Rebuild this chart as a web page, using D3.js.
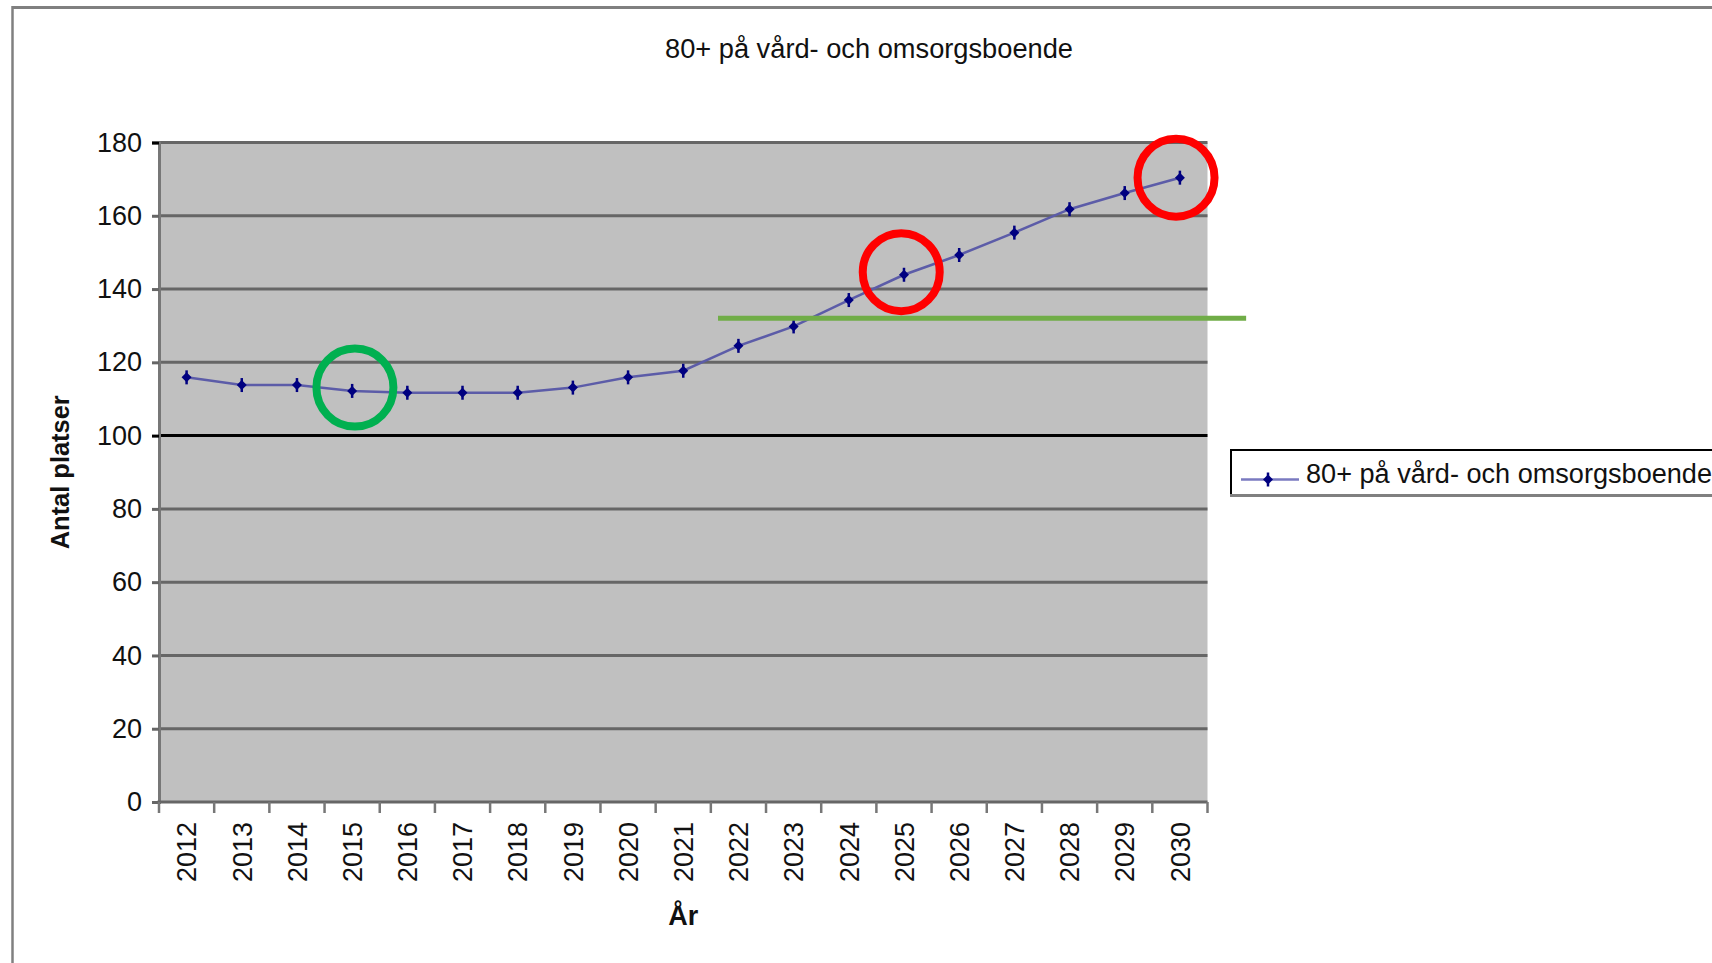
<!DOCTYPE html>
<html>
<head>
<meta charset="utf-8">
<script src="https://cdn.jsdelivr.net/npm/d3@7"></script>
<style>
  body { margin: 0; background: #fff; }
  svg { display: block; font-family: "Liberation Sans", Arial, sans-serif; }
</style>
</head>
<body>
<div id="chart"></div>
<script>
var years = ["2012", "2013", "2014", "2015", "2016", "2017", "2018", "2019", "2020", "2021",
             "2022", "2023", "2024", "2025", "2026", "2027", "2028", "2029", "2030"];
var platser = [115.9, 113.8, 113.8, 112.2, 111.7, 111.7, 111.7, 113.1, 115.9, 117.7,
               124.5, 129.8, 137.0, 143.9, 149.3, 155.4, 161.8, 166.2, 170.4];
var yTicks = [0, 20, 40, 60, 80, 100, 120, 140, 160, 180];
var seriesName = "80+ på vård- och omsorgsboende";
var chartTitle = "80+ på vård- och omsorgsboende";
var yTitle = "Antal platser";
var xTitle = "År";

// hand drawn marks on top of the chart: circles (year, value) and a level line
var ringYears = [2015.05, 2024.95, 2029.93];
var ringValues = [113.1, 144.6, 170.4];
var ringColors = ["#00b050", "#ff0000", "#ff0000"];
var levelFrom = 2021.63, levelTo = 2031.2, levelValue = 132;

var width = 1712, height = 963;
// plot area (note: "top" is taken by window.top, so use own names)
var pLeft = 159, pRight = 1207.5, pTop = 142.5, pBottom = 802;

var svg = d3.select("#chart").append("svg")
    .attr("width", width)
    .attr("height", height);

// outer frame (only top and left visible)
svg.append("line").attr("x1", 12).attr("x2", width).attr("y1", 7.5).attr("y2", 7.5)
    .attr("stroke", "#808080").attr("stroke-width", 3);
svg.append("line").attr("x1", 12.5).attr("x2", 12.5).attr("y1", 6).attr("y2", height)
    .attr("stroke", "#808080").attr("stroke-width", 2.5);

var x = d3.scaleBand().domain(years).range([pLeft, pRight]);
var y = d3.scaleLinear().domain([0, 180]).range([pBottom, pTop]);

function xAt(yr) { return pLeft + (yr - (+years[0] - 0.5)) * x.step(); }
function cx(d) { return x(d) + x.bandwidth() / 2; }

svg.append("rect")
    .attr("x", pLeft).attr("y", pTop)
    .attr("width", pRight - pLeft).attr("height", pBottom - pTop)
    .attr("fill", "#c0c0c0");

svg.append("g").selectAll("line")
    .data(yTicks.filter(function(d) { return d > 0; }))
    .enter().append("line")
    .attr("x1", pLeft).attr("x2", pRight)
    .attr("y1", function(d) { return y(d); })
    .attr("y2", function(d) { return y(d); })
    .attr("stroke", function(d) { return d == 100 ? "#000" : "#666"; })
    .attr("stroke-width", 3);

// y axis
var yAxis = svg.append("g")
    .attr("transform", "translate(" + pLeft + ",0)")
    .call(d3.axisLeft(y).tickValues(yTicks).tickSize(7).tickPadding(10));
yAxis.select(".domain").attr("stroke", "#777").attr("stroke-width", 3);
yAxis.selectAll(".tick line").attr("stroke-width", 3)
    .attr("stroke", function(d) { return (d == 100 || d == 180) ? "#000" : "#666"; });
yAxis.selectAll(".tick text").attr("font-size", 27).attr("fill", "#111")
    .attr("font-family", "Liberation Sans, Arial, sans-serif");

// x axis
svg.append("line").attr("x1", pLeft - 1.5).attr("x2", pRight).attr("y1", pBottom).attr("y2", pBottom)
    .attr("stroke", "#666").attr("stroke-width", 3);
svg.append("g").selectAll("line")
    .data(d3.range(years.length + 1))
    .enter().append("line")
    .attr("x1", function(i) { return pLeft + i * x.step(); })
    .attr("x2", function(i) { return pLeft + i * x.step(); })
    .attr("y1", pBottom).attr("y2", pBottom + 11)
    .attr("stroke", "#777").attr("stroke-width", 2.5);

var xAxis = svg.append("g")
    .attr("transform", "translate(0," + pBottom + ")")
    .call(d3.axisBottom(x).tickSize(0).tickPadding(20));
xAxis.select(".domain").remove();
xAxis.selectAll(".tick text")
    .attr("font-size", 27).attr("fill", "#111")
    .attr("font-family", "Liberation Sans, Arial, sans-serif")
    .attr("transform", "rotate(-90)")
    .attr("text-anchor", "end")
    .attr("x", -20).attr("y", 0).attr("dy", "0.36em");

// series
var line = d3.line()
    .x(function(d, i) { return cx(years[i]); })
    .y(function(d) { return y(d); });

svg.append("path")
    .datum(platser)
    .attr("d", line)
    .attr("fill", "none")
    .attr("stroke", "#5c5ca8")
    .attr("stroke-width", 2.5);

// markers: square turned 45 deg, plus a short vertical tick
var marker = d3.symbol(d3.symbolSquare, 50);
var pts = svg.append("g").selectAll("g")
    .data(platser)
    .enter().append("g")
    .attr("transform", function(d, i) { return "translate(" + cx(years[i]) + "," + y(d) + ")"; });
pts.append("path")
    .attr("d", marker)
    .attr("transform", "rotate(45)")
    .attr("fill", "#000080");
pts.append("line")
    .attr("y1", -7).attr("y2", 7)
    .attr("stroke", "#000080").attr("stroke-width", 2.5);

// titles
svg.append("text")
    .attr("x", 869).attr("y", 58)
    .attr("text-anchor", "middle")
    .attr("font-size", 27).attr("fill", "#111")
    .attr("textLength", 408).attr("lengthAdjust", "spacingAndGlyphs")
    .text(chartTitle);

svg.append("text")
    .attr("transform", "translate(69," + ((pTop + pBottom) / 2) + ") rotate(-90)")
    .attr("text-anchor", "middle")
    .attr("font-size", 26).attr("font-weight", "bold").attr("fill", "#111")
    .attr("textLength", 154).attr("lengthAdjust", "spacingAndGlyphs")
    .text(yTitle);

svg.append("text")
    .attr("x", (pLeft + pRight) / 2).attr("y", 925)
    .attr("text-anchor", "middle")
    .attr("font-size", 27).attr("font-weight", "bold").attr("fill", "#111")
    .text(xTitle);

// legend
var lg = svg.append("g");
lg.append("rect")
    .attr("x", 1231).attr("y", 450)
    .attr("width", 520).attr("height", 45)
    .attr("fill", "#fff").attr("stroke", "#000").attr("stroke-width", 2);
lg.append("line").attr("x1", 1230).attr("x2", width).attr("y1", 495.5).attr("y2", 495.5)
    .attr("stroke", "#808080").attr("stroke-width", 3);
lg.append("line").attr("x1", 1241).attr("x2", 1299).attr("y1", 479.5).attr("y2", 479.5)
    .attr("stroke", "#7a7ac0").attr("stroke-width", 2.5);
var lm = lg.append("g").attr("transform", "translate(1268,479.5)");
lm.append("path").attr("d", marker).attr("transform", "rotate(45)").attr("fill", "#000080");
lm.append("line").attr("y1", -7).attr("y2", 7).attr("stroke", "#000080").attr("stroke-width", 2.5);
lg.append("text")
    .attr("x", 1306).attr("y", 483)
    .attr("font-size", 27).attr("fill", "#111")
    .attr("textLength", 406).attr("lengthAdjust", "spacingAndGlyphs")
    .text(seriesName);

// annotations
svg.append("line")
    .attr("x1", xAt(levelFrom)).attr("x2", xAt(levelTo))
    .attr("y1", y(levelValue)).attr("y2", y(levelValue))
    .attr("stroke", "#70ad47").attr("stroke-width", 5);

svg.append("g").selectAll("ellipse")
    .data(ringYears)
    .enter().append("ellipse")
    .attr("cx", function(d) { return xAt(d); })
    .attr("cy", function(d, i) { return y(ringValues[i]); })
    .attr("rx", 38.5).attr("ry", 39)
    .attr("fill", "none")
    .attr("stroke", function(d, i) { return ringColors[i]; })
    .attr("stroke-width", 8);
</script>
</body>
</html>
